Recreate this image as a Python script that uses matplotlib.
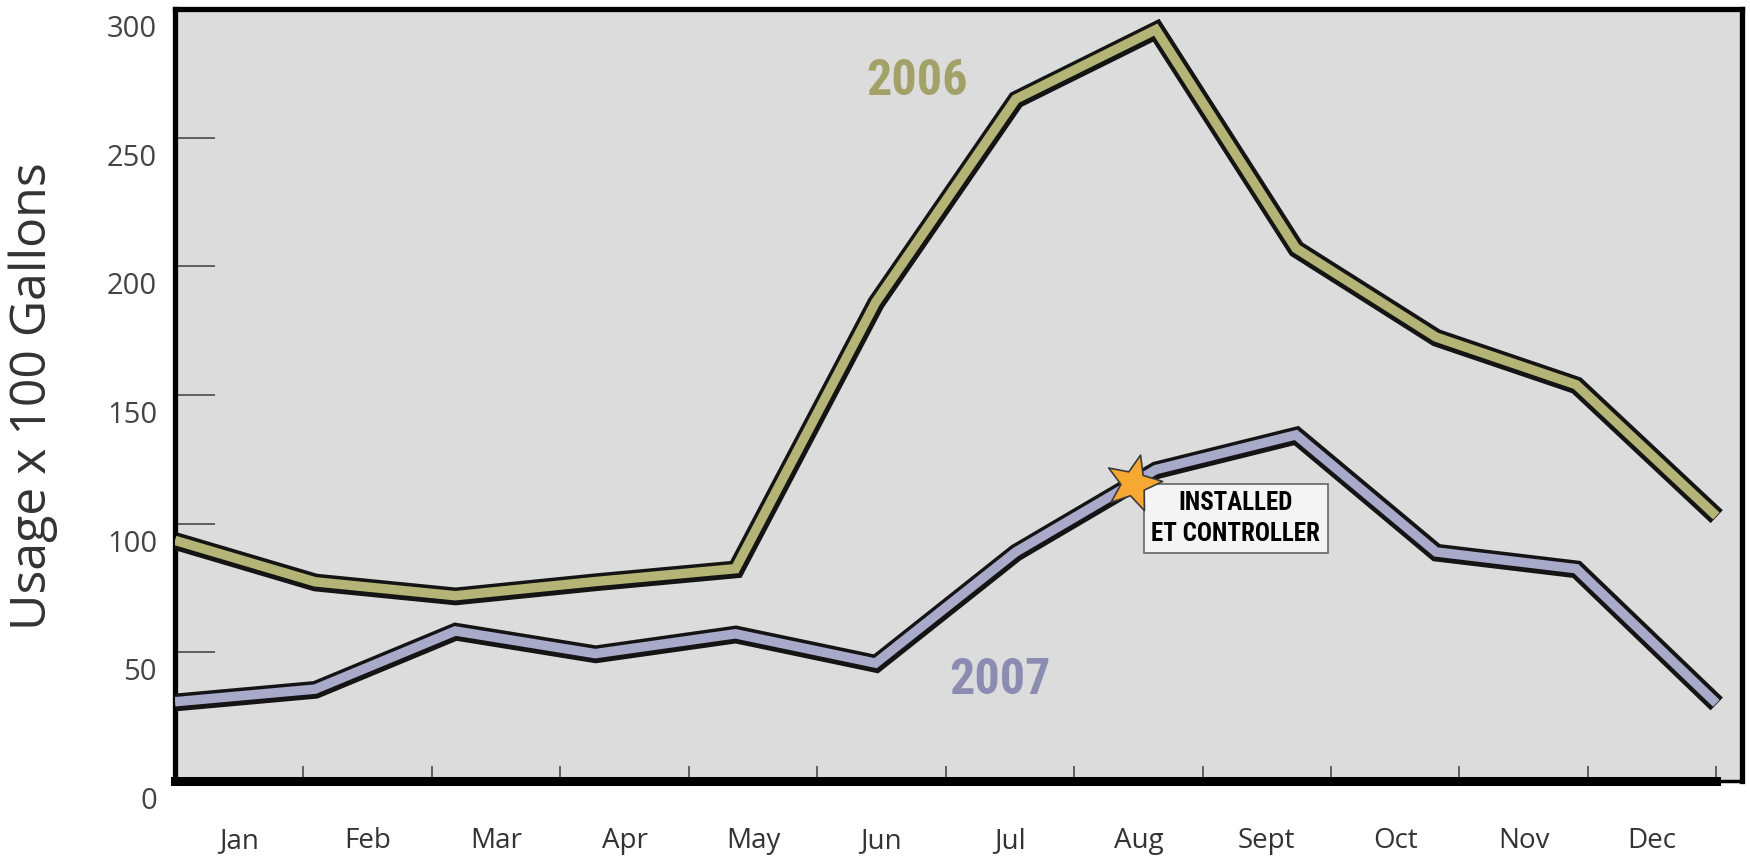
"""
Monthly irrigation water usage, 2006 vs 2007, with the ET controller
installation marked on the 2007 curve.
"""

import matplotlib
matplotlib.use("Agg")
import matplotlib.pyplot as plt
import matplotlib.patheffects as pe
import matplotlib.transforms as mtransforms
from matplotlib.path import Path
import numpy as np

MONTHS = ["Jan", "Feb", "Mar", "Apr", "May", "Jun",
          "Jul", "Aug", "Sept", "Oct", "Nov", "Dec"]
USAGE_2006 = [93.5, 77.4, 72, 77.5, 82.5, 186, 265, 292, 207, 172.5, 154, 103]
USAGE_2007 = [30.8, 35.7, 58.3, 49.5, 57.2, 45.8, 89, 121, 134.5, 89, 82.5, 30.2]
Y_TICKS = [0, 50, 100, 150, 200, 250, 300]
STAR_MONTH = 6.84          # ET controller installed late July / early Aug
NOTE = "INSTALLED\nET CONTROLLER"

BG = "#dcdcdc"
OLIVE, OLIVE_TXT = "#b3b475", "#a2a268"
LAVENDER, LAVENDER_TXT = "#a9a9ca", "#8c8cb2"
# condensed bold face for the callouts; first installed one wins
NARROW = ["Liberation Sans Narrow", "Roboto Condensed", "DejaVu Sans Condensed",
          "Roboto", "DejaVu Sans"]

plt.rcParams["font.family"] = ["Open Sans", "DejaVu Sans"]

fig = plt.figure(figsize=(17.5, 8.56), dpi=100)
ax = fig.add_axes([175 / 1750, 1 - 781 / 856, 1567 / 1750, 772 / 856])
ax.set_facecolor(BG)

# month boundaries are the ticks (0..12); data points spread evenly over them
n = len(MONTHS)
x = np.arange(n) * n / (n - 1)


def draw_series(values, core):
    ax.plot(x, values, color=core, lw=6.8, solid_joinstyle="miter",
            solid_capstyle="butt", zorder=3,
            path_effects=[pe.Stroke(linewidth=12.8, foreground="#141414",
                                    offset=(0.3, -0.5)),
                          pe.Normal()])


draw_series(USAGE_2006, OLIVE)
draw_series(USAGE_2007, LAVENDER)

ax.text(5.78, 272, "2006", color=OLIVE_TXT, fontsize=36, fontweight="bold",
        family=NARROW, stretch="condensed", ha="center", va="center")
ax.text(6.42, 39, "2007", color=LAVENDER_TXT, fontsize=36, fontweight="bold",
        family=NARROW, stretch="condensed", ha="center", va="center")

# star marker sitting on the 2007 line where the controller went in
star = mtransforms.Affine2D().rotate_deg(-14).transform_path(
    Path.unit_regular_star(5, 0.43))
sx = np.interp(STAR_MONTH, np.arange(n), x)
sy = np.interp(STAR_MONTH, np.arange(n), USAGE_2007)
ax.plot(sx, sy, marker=star, ms=42, color="#f6a832", mec="#3a3a3a",
        mew=1.2, zorder=6)
ax.text(8.26, 102, NOTE, fontsize=18, fontweight="bold", family=NARROW,
        stretch="condensed", ha="center", va="center", linespacing=1.35,
        zorder=5,
        bbox=dict(boxstyle="square,pad=0.3", fc="#f4f4f4", ec="#666666",
                  lw=1.2))

ax.set_xlim(0, 12.2)
ax.set_ylim(0, 300)

# frame
for side in ("left", "top", "right"):
    ax.spines[side].set_linewidth(3.8)
    ax.spines[side].set_color("black")
ax.spines["bottom"].set_linewidth(2.5)
ax.axhline(0, xmin=0, xmax=12 / 12.2, color="black", lw=6.5, clip_on=False,
           zorder=4)

# x: boundary ticks inside, month names centred between them
ax.set_xticks(np.arange(n + 1))
ax.set_xticklabels([])
ax.set_xticks(np.arange(n) + 0.5, minor=True)
ax.set_xticklabels(MONTHS, minor=True, fontsize=20, color="#333333")
ax.tick_params(axis="x", which="major", direction="in", length=11,
               width=1.3, color="#555555")
ax.tick_params(axis="x", which="minor", length=0, pad=33)

ax.set_yticks(Y_TICKS)
ax.set_yticklabels([str(v) for v in Y_TICKS], fontsize=21, color="#444444")
ax.tick_params(axis="y", direction="in", length=29, width=1.3,
               color="#555555", pad=13)
shift = mtransforms.ScaledTranslation(0, -0.17, fig.dpi_scale_trans)
for lbl in ax.get_yticklabels():
    lbl.set_transform(lbl.get_transform() + shift)

fig.text(33 / 1750, 1 - 396 / 856, "Usage x 100 Gallons", rotation=90,
         fontsize=36, color="#333333", ha="center", va="center")

fig.savefig("out.png", dpi=100, facecolor="white")
